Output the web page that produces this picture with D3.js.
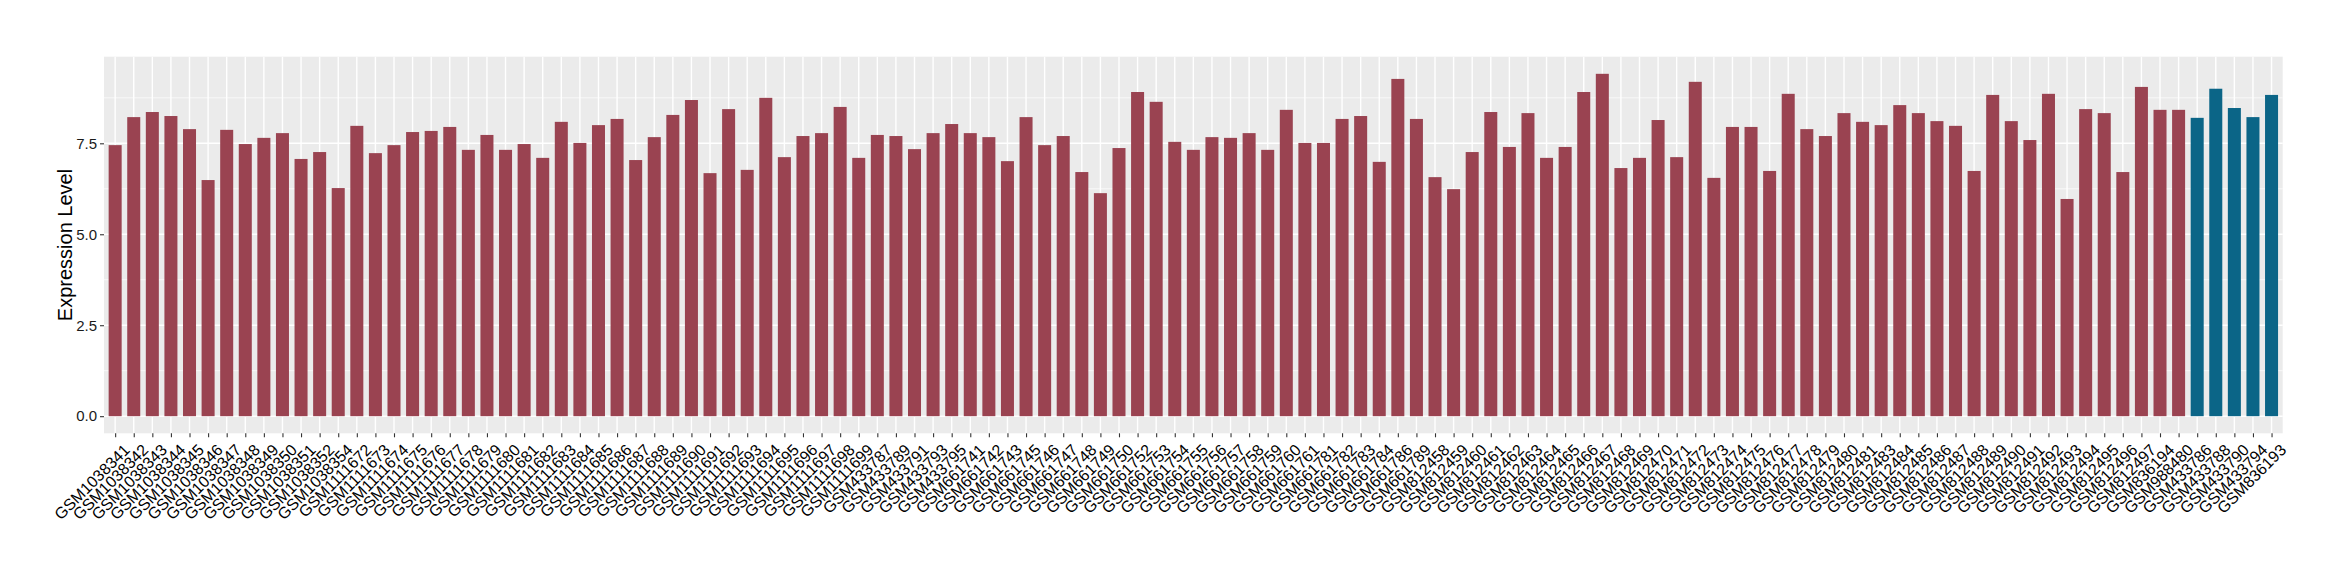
<!DOCTYPE html>
<html>
<head>
<meta charset="utf-8">
<script src="https://cdn.jsdelivr.net/npm/d3@7"></script>
<style>
  html, body { margin: 0; padding: 0; background: #fff; }
  svg { display: block; }
</style>
</head>
<body>
<svg id="chart" width="2340" height="580"></svg>
<script>
// ---- data ----
const samples = [
  "GSM1038341","GSM1038342","GSM1038343","GSM1038344","GSM1038345","GSM1038346","GSM1038347","GSM1038348","GSM1038349","GSM1038350","GSM1038351","GSM1038352","GSM1038354",
  "GSM1111672","GSM1111673","GSM1111674","GSM1111675","GSM1111676","GSM1111677","GSM1111678","GSM1111679","GSM1111680","GSM1111681","GSM1111682","GSM1111683","GSM1111684","GSM1111685","GSM1111686","GSM1111687","GSM1111688","GSM1111689","GSM1111690","GSM1111691","GSM1111692","GSM1111693","GSM1111694","GSM1111695","GSM1111696","GSM1111697","GSM1111698","GSM1111699",
  "GSM433787","GSM433789","GSM433791","GSM433793","GSM433795",
  "GSM661741","GSM661742","GSM661743","GSM661745","GSM661746","GSM661747","GSM661748","GSM661749","GSM661750","GSM661752","GSM661753","GSM661754","GSM661755","GSM661756","GSM661757","GSM661758","GSM661759","GSM661760","GSM661761","GSM661781","GSM661782","GSM661783","GSM661784","GSM661786","GSM661789",
  "GSM812458","GSM812459","GSM812460","GSM812461","GSM812462","GSM812463","GSM812464","GSM812465","GSM812466","GSM812467","GSM812468","GSM812469","GSM812470","GSM812471","GSM812472","GSM812473","GSM812474","GSM812475","GSM812476","GSM812477","GSM812478","GSM812479","GSM812480","GSM812481","GSM812483","GSM812484","GSM812485","GSM812486","GSM812487","GSM812488","GSM812489","GSM812490","GSM812491","GSM812492","GSM812493","GSM812494","GSM812495","GSM812496","GSM812497",
  "GSM836194","GSM988480",
  "GSM433786","GSM433788","GSM433790","GSM433794","GSM836193"
];
const expression = [
  7.45,8.22,8.36,8.25,7.89,6.49,7.87,7.48,7.65,7.78,7.07,7.26,6.27,
  7.98,7.23,7.45,7.81,7.84,7.95,7.32,7.73,7.32,7.48,7.10,8.09,7.51,8.00,8.17,7.04,7.67,8.28,8.69,6.68,8.44,6.77,8.75,7.12,7.70,7.78,8.50,7.10,
  7.73,7.70,7.34,7.78,8.03,
  7.78,7.67,7.01,8.22,7.45,7.70,6.71,6.13,7.37,8.91,8.64,7.54,7.32,7.67,7.65,7.78,7.32,8.42,7.51,7.51,8.17,8.25,6.99,9.27,8.17,
  6.57,6.24,7.26,8.36,7.40,8.33,7.10,7.40,8.91,9.41,6.82,7.10,8.14,7.12,9.19,6.55,7.95,7.95,6.74,8.86,7.89,7.70,8.33,8.09,8.00,8.55,8.33,8.11,7.98,6.74,8.83,8.11,7.59,8.86,5.97,8.44,8.33,6.71,9.05,
  8.42,8.42,
  8.20,9.00,8.47,8.22,8.83
];
const group = samples.map((s, i) => i >= samples.length - 5 ? "B" : "A");
const groupColors = { A: "#9A4351", B: "#0B6587" };
const yTicks = [0, 2.5, 5, 7.5];
const yMinor = [1.25, 3.75, 6.25, 8.75];
const yTitle = "Expression Level";

// ---- layout ----
const panel = { left: 104, right: 2282.7, top: 56.7, bottom: 433.3 };
const svg = d3.select("#chart");

const n = samples.length;
const step = (panel.right - panel.left) / (n - 1 + 1.2);
const x = d3.scalePoint().domain(samples)
  .range([panel.left + 0.6 * step, panel.right - 0.6 * step]);
const maxV = d3.max(expression);
const y = d3.scaleLinear().domain([-0.05 * maxV, 1.05 * maxV])
  .range([panel.bottom, panel.top]);

// panel background
svg.append("rect")
  .attr("x", panel.left).attr("y", panel.top)
  .attr("width", panel.right - panel.left).attr("height", panel.bottom - panel.top)
  .attr("fill", "#EBEBEB");

// minor horizontal grid
svg.append("g").selectAll("line").data(yMinor).join("line")
  .attr("x1", panel.left).attr("x2", panel.right)
  .attr("y1", d => y(d)).attr("y2", d => y(d))
  .attr("stroke", "#fff").attr("stroke-width", 0.7);
// major horizontal grid
svg.append("g").selectAll("line").data(yTicks).join("line")
  .attr("x1", panel.left).attr("x2", panel.right)
  .attr("y1", d => y(d)).attr("y2", d => y(d))
  .attr("stroke", "#fff").attr("stroke-width", 1.4);
// vertical grid
svg.append("g").selectAll("line").data(samples).join("line")
  .attr("x1", d => x(d)).attr("x2", d => x(d))
  .attr("y1", panel.top).attr("y2", panel.bottom)
  .attr("stroke", "#fff").attr("stroke-width", 1.4);

// bars
const bw = 0.7 * step;
svg.append("g").selectAll("rect").data(samples).join("rect")
  .attr("x", d => x(d) - bw / 2)
  .attr("width", bw)
  .attr("y", (d, i) => y(expression[i]))
  .attr("height", (d, i) => y(0) - y(expression[i]))
  .attr("fill", (d, i) => groupColors[group[i]]);

// y axis
const yAxis = d3.axisLeft(y).tickValues(yTicks).tickFormat(d3.format(".1f"))
  .tickSize(4).tickPadding(3);
const gy = svg.append("g").attr("transform", `translate(${panel.left},0)`).call(yAxis);
gy.select(".domain").remove();
gy.selectAll(".tick line").attr("stroke", "#333").attr("stroke-width", 1.1);
gy.selectAll(".tick text")
  .attr("fill", "#1a1a1a")
  .style("font-family", "'Liberation Sans', Arial, sans-serif")
  .style("font-size", "15px");

// x axis
const xAxis = d3.axisBottom(x).tickSize(4).tickPadding(0);
const gx = svg.append("g").attr("transform", `translate(0,${panel.bottom})`).call(xAxis);
gx.select(".domain").remove();
gx.selectAll(".tick line").attr("stroke", "#333").attr("stroke-width", 1.1);
gx.selectAll(".tick text")
  .attr("fill", "#000")
  .attr("text-anchor", "end")
  .attr("x", 0).attr("y", 0).attr("dy", "0.72em")
  .attr("transform", "translate(7,9.5) rotate(-45)")
  .style("font-family", "'Liberation Sans', Arial, sans-serif")
  .style("font-size", "16px");

// y title
svg.append("text")
  .attr("transform", `translate(72,${(panel.top + panel.bottom) / 2}) rotate(-90)`)
  .attr("text-anchor", "middle")
  .attr("fill", "#000")
  .style("font-family", "'Liberation Sans', Arial, sans-serif")
  .style("font-size", "20px")
  .text(yTitle);
</script>
</body>
</html>
